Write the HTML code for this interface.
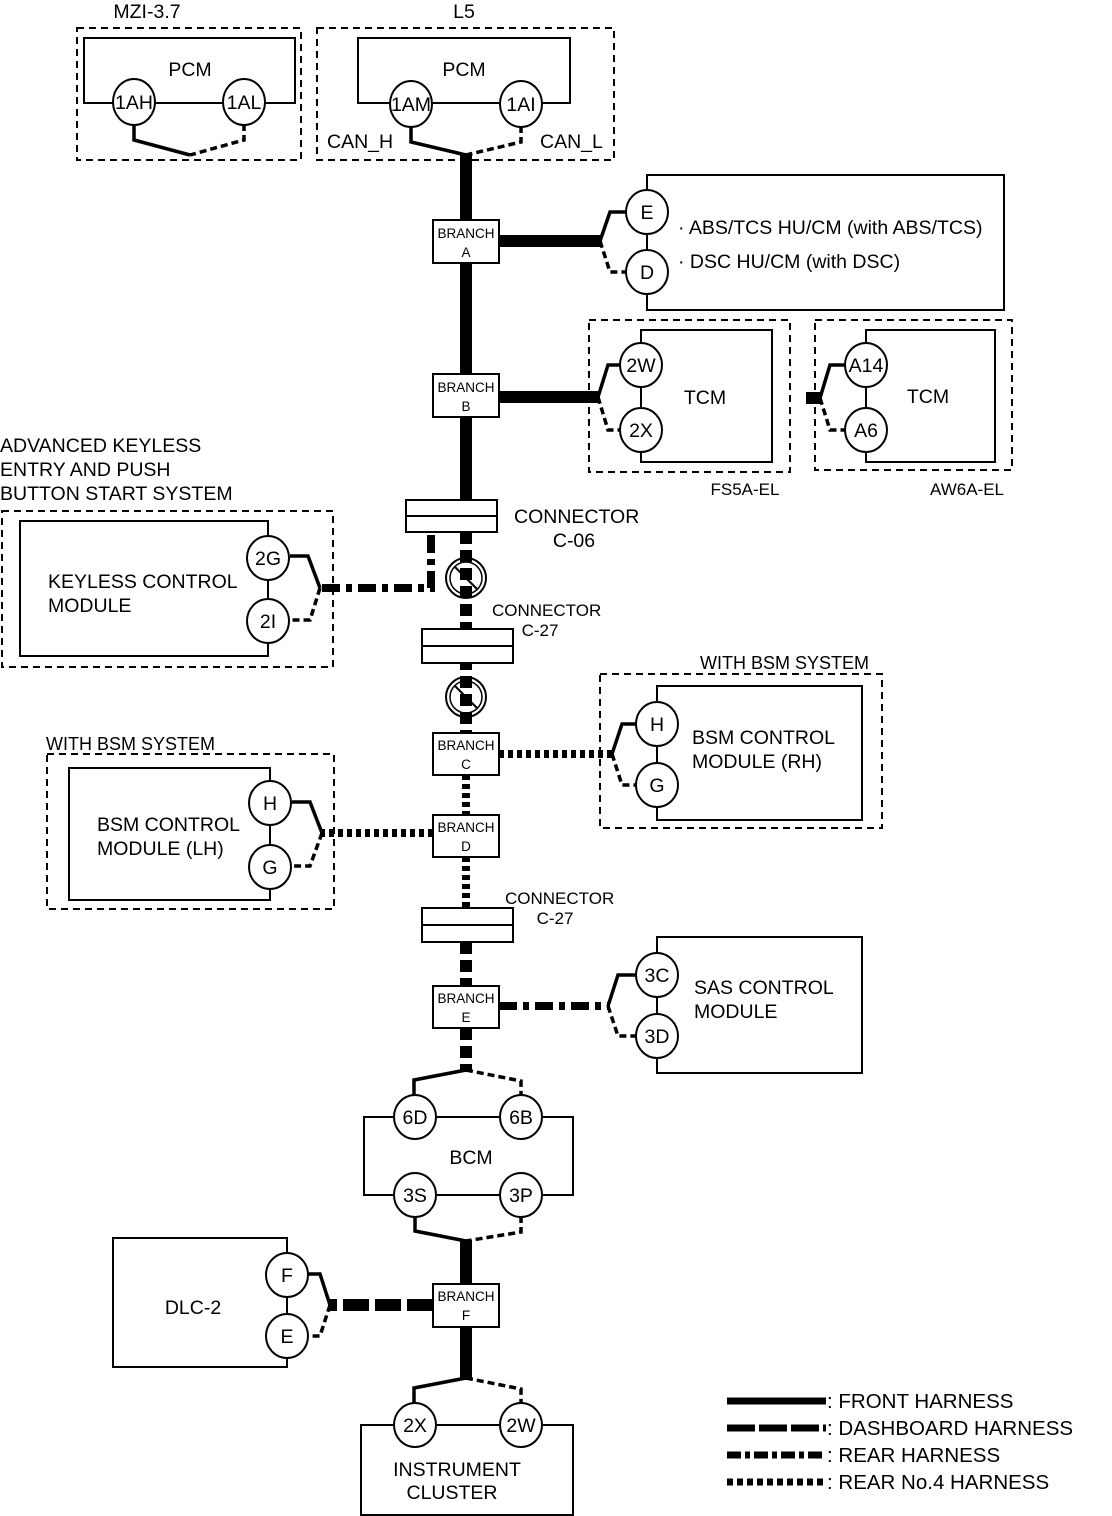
<!DOCTYPE html>
<html><head><meta charset="utf-8"><style>
html,body{margin:0;padding:0;background:#fff}
svg{display:block}
text{font-family:"Liberation Sans",Arial,sans-serif;fill:#000}
</style></head><body>
<svg width="1112" height="1516" viewBox="0 0 1112 1516" xmlns="http://www.w3.org/2000/svg">
<defs>
<style>
.th{stroke:#000;stroke-width:2;fill:none}
.wb{stroke:#000;stroke-width:2;fill:#fff}
.db{stroke:#000;stroke-width:2;fill:none;stroke-dasharray:7 5}
.cir{stroke:#000;stroke-width:2;fill:#fff}
.fs{stroke:#000;stroke-width:3.5;fill:none}
.fd{stroke:#000;stroke-width:3.5;fill:none;stroke-dasharray:7 4}
.tr{stroke:#000;stroke-width:12;fill:none}
.dash{stroke:#000;stroke-width:12;fill:none;stroke-dasharray:26 6}
.dd{stroke:#000;stroke-width:12;fill:none;stroke-dasharray:12 6}
.rear{stroke:#000;stroke-width:8;fill:none;stroke-dasharray:18 6 6 6}
.dot{stroke:#000;stroke-width:8;fill:none;stroke-dasharray:5 4}
.c{font-size:19.5px;text-anchor:middle}
.t{font-size:19.5px}
.b{font-size:13.5px;text-anchor:middle}
</style>
</defs>

<!-- MZI-3.7 -->
<text x="147" y="18" class="c">MZI-3.7</text>
<rect x="77" y="28" width="224" height="132" class="db"/>
<rect x="84" y="38" width="211" height="65" class="th"/>
<text x="190" y="76" class="c">PCM</text>
<path d="M134 124 V140 L190 155" class="fs"/>
<path d="M244 124 V140 L190 155" class="fd"/>
<ellipse cx="134" cy="102" rx="21" ry="23" class="cir"/><text x="134" y="109" class="c">1AH</text>
<ellipse cx="244" cy="102" rx="21" ry="23" class="cir"/><text x="244" y="109" class="c">1AL</text>

<!-- L5 -->
<text x="464" y="18" class="c">L5</text>
<rect x="317" y="28" width="297" height="132" class="db"/>
<rect x="358" y="38" width="212" height="65" class="th"/>
<text x="464" y="76" class="c">PCM</text>
<text x="327" y="148" class="t">CAN_H</text>
<text x="540" y="148" class="t">CAN_L</text>
<path d="M411 126 V142 L466 155" class="fs"/>
<path d="M521 126 V142 L466 155" class="fd"/>
<ellipse cx="411" cy="104" rx="21" ry="23" class="cir"/><text x="411" y="111" class="c">1AM</text>
<ellipse cx="521" cy="104" rx="21" ry="23" class="cir"/><text x="521" y="111" class="c">1AI</text>

<!-- trunk solid top -->
<path d="M466 155 V500" class="tr"/>
<!-- Branch A -->
<path d="M499 241 H600" class="tr"/>
<path d="M600 241 L610 212 H626" class="fs"/>
<path d="M600 241 L610 272 H626" class="fd"/>
<path d="M647 212 V175 H1004 V310 H647 V272" class="th"/>
<path d="M647 212 V272" class="th"/>
<ellipse cx="647" cy="212" rx="21" ry="22" class="cir"/><text x="647" y="219" class="c">E</text>
<ellipse cx="647" cy="272" rx="21" ry="22" class="cir"/><text x="647" y="279" class="c">D</text>
<text x="678" y="234" class="t">· ABS/TCS HU/CM (with ABS/TCS)</text>
<text x="678" y="268" class="t">· DSC HU/CM (with DSC)</text>
<rect x="433" y="220" width="66" height="43" class="wb"/>
<text x="466" y="238" class="b">BRANCH</text><text x="466" y="257" class="b">A</text>

<!-- Branch B / TCM FS5A -->
<path d="M499 397 H598" class="tr"/>
<path d="M598 397 L608 365 H620" class="fs"/>
<path d="M598 397 L608 430 H620" class="fd"/>
<rect x="589" y="320" width="201" height="152" class="db"/>
<path d="M641 365 V330 H772 V462 H641 V430" class="th"/>
<path d="M641 365 V430" class="th"/>
<ellipse cx="641" cy="365" rx="21" ry="22" class="cir"/><text x="641" y="372" class="c">2W</text>
<ellipse cx="641" cy="430" rx="21" ry="22" class="cir"/><text x="641" y="437" class="c">2X</text>
<text x="705" y="404" class="c">TCM</text>
<text x="745" y="495" class="c" style="font-size:17px">FS5A-EL</text>
<rect x="433" y="374" width="66" height="43" class="wb"/>
<text x="466" y="392" class="b">BRANCH</text><text x="466" y="411" class="b">B</text>

<!-- AW6A -->
<rect x="815" y="320" width="197" height="150" class="db"/>
<path d="M806 398 H822" class="tr"/>
<path d="M820 398 L830 365 H845" class="fs"/>
<path d="M820 398 L830 430 H845" class="fd"/>
<path d="M866 365 V330 H995 V462 H866 V430" class="th"/>
<path d="M866 365 V430" class="th"/>
<ellipse cx="866" cy="365" rx="21" ry="22" class="cir"/><text x="866" y="372" class="c">A14</text>
<ellipse cx="866" cy="430" rx="21" ry="22" class="cir"/><text x="866" y="437" class="c">A6</text>
<text x="928" y="403" class="c">TCM</text>
<text x="967" y="495" class="c" style="font-size:17px">AW6A-EL</text>

<!-- Keyless -->
<text x="0" y="452" class="t">ADVANCED KEYLESS</text>
<text x="0" y="476" class="t">ENTRY AND PUSH</text>
<text x="0" y="500" class="t">BUTTON START SYSTEM</text>
<rect x="2" y="511" width="331" height="156" class="db"/>
<path d="M268 558 V521 H20 V656 H268 V621" class="th"/>
<path d="M268 558 V621" class="th"/>
<text x="48" y="588" class="t">KEYLESS CONTROL</text>
<text x="48" y="612" class="t">MODULE</text>
<path d="M320 588 L308 556 H290" class="fs"/>
<path d="M320 588 L310 620 H290" class="fd"/>
<path d="M322 588 H431 V534" class="rear"/>
<ellipse cx="268" cy="558" rx="21" ry="22" class="cir"/><text x="268" y="565" class="c">2G</text>
<ellipse cx="268" cy="621" rx="21" ry="22" class="cir"/><text x="268" y="628" class="c">2I</text>

<!-- trunk C-06 to Branch C -->
<path d="M466 532 V734" class="dd"/>
<rect x="406" y="500" width="91" height="32" class="wb"/><path d="M406 516 H497" class="th"/>
<text x="514" y="523" class="t">CONNECTOR</text>
<text x="574" y="547" class="c">C-06</text>
<circle cx="466" cy="578" r="20" fill="none" stroke="#000" stroke-width="2"/>
<circle cx="466" cy="578" r="16" fill="none" stroke="#000" stroke-width="1.5"/>
<path d="M455 567 L477 589" stroke="#000" stroke-width="2"/>
<text x="492" y="616" class="t" style="font-size:17px">CONNECTOR</text>
<text x="540" y="636" class="c" style="font-size:17px">C-27</text>
<rect x="422" y="629" width="91" height="34" class="wb"/><path d="M422 646 H513" class="th"/>
<circle cx="466" cy="697" r="20" fill="none" stroke="#000" stroke-width="2"/>
<circle cx="466" cy="697" r="16" fill="none" stroke="#000" stroke-width="1.5"/>
<path d="M455 686 L477 708" stroke="#000" stroke-width="2"/>

<!-- Branch C / BSM RH -->
<path d="M466 775 V815" class="dot"/>
<path d="M499 754 H612" class="dot"/>
<path d="M612 754 L622 724 H636" class="fs"/>
<path d="M612 754 L622 785 H636" class="fd"/>
<text x="700" y="669" class="t" style="font-size:18px">WITH BSM SYSTEM</text>
<rect x="600" y="674" width="282" height="154" class="db"/>
<path d="M657 724 V686 H862 V820 H657 V785" class="th"/>
<path d="M657 724 V785" class="th"/>
<ellipse cx="657" cy="724" rx="21" ry="22" class="cir"/><text x="657" y="731" class="c">H</text>
<ellipse cx="657" cy="785" rx="21" ry="22" class="cir"/><text x="657" y="792" class="c">G</text>
<text x="692" y="744" class="t">BSM CONTROL</text>
<text x="692" y="768" class="t">MODULE (RH)</text>
<rect x="433" y="733" width="66" height="42" class="wb"/>
<text x="466" y="750" class="b">BRANCH</text><text x="466" y="769" class="b">C</text>

<!-- Branch D / BSM LH -->
<path d="M466 857 V908" class="dot"/>
<path d="M433 833 H322" class="dot"/>
<path d="M322 833 L310 802 H292" class="fs"/>
<path d="M322 833 L310 866 H292" class="fd"/>
<text x="46" y="750" class="t" style="font-size:18px">WITH BSM SYSTEM</text>
<rect x="47" y="754" width="287" height="155" class="db"/>
<path d="M270 803 V768 H69 V900 H270 V867" class="th"/>
<path d="M270 803 V867" class="th"/>
<ellipse cx="270" cy="803" rx="21" ry="22" class="cir"/><text x="270" y="810" class="c">H</text>
<ellipse cx="270" cy="867" rx="21" ry="22" class="cir"/><text x="270" y="874" class="c">G</text>
<text x="97" y="831" class="t">BSM CONTROL</text>
<text x="97" y="855" class="t">MODULE (LH)</text>
<rect x="433" y="815" width="66" height="42" class="wb"/>
<text x="466" y="832" class="b">BRANCH</text><text x="466" y="851" class="b">D</text>

<!-- C-27 second -->
<path d="M466 942 V987" class="dd"/>
<rect x="422" y="908" width="91" height="34" class="wb"/><path d="M422 925 H513" class="th"/>
<text x="505" y="904" class="t" style="font-size:17px">CONNECTOR</text>
<text x="555" y="924" class="c" style="font-size:17px">C-27</text>

<!-- Branch E / SAS -->
<path d="M499 1006 H608" class="rear"/>
<path d="M608 1006 L618 975 H636" class="fs"/>
<path d="M608 1006 L618 1036 H636" class="fd"/>
<path d="M657 975 V937 H862 V1073 H657 V1036" class="th"/>
<path d="M657 975 V1036" class="th"/>
<ellipse cx="657" cy="975" rx="21" ry="22" class="cir"/><text x="657" y="982" class="c">3C</text>
<ellipse cx="657" cy="1036" rx="21" ry="22" class="cir"/><text x="657" y="1043" class="c">3D</text>
<text x="694" y="994" class="t">SAS CONTROL</text>
<text x="694" y="1018" class="t">MODULE</text>
<path d="M466 1028 V1070" class="dd"/>
<rect x="433" y="986" width="66" height="42" class="wb"/>
<text x="466" y="1003" class="b">BRANCH</text><text x="466" y="1022" class="b">E</text>

<!-- BCM -->
<path d="M466 1070 L414 1080 V1096" class="fs"/>
<path d="M466 1070 L521 1081 V1096" class="fd"/>
<rect x="364" y="1117" width="209" height="78" class="th"/>
<text x="471" y="1164" class="c">BCM</text>
<ellipse cx="415" cy="1117" rx="21" ry="22" class="cir"/><text x="415" y="1124" class="c">6D</text>
<ellipse cx="521" cy="1117" rx="21" ry="22" class="cir"/><text x="521" y="1124" class="c">6B</text>
<path d="M415 1216 V1231 L466 1241" class="fs"/>
<path d="M521 1216 V1232 L466 1241" class="fd"/>
<ellipse cx="415" cy="1195" rx="21" ry="22" class="cir"/><text x="415" y="1202" class="c">3S</text>
<ellipse cx="521" cy="1195" rx="21" ry="22" class="cir"/><text x="521" y="1202" class="c">3P</text>

<!-- Branch F / DLC -->
<path d="M466 1240 V1380" class="tr"/>
<path d="M433 1305 H330" class="dash"/>
<path d="M330 1305 L320 1274 H306" class="fs"/>
<path d="M330 1305 L320 1336 H306" class="fd"/>
<path d="M287 1275 V1238 H113 V1367 H287 V1336" class="th"/>
<path d="M287 1275 V1336" class="th"/>
<ellipse cx="287" cy="1275" rx="21" ry="22" class="cir"/><text x="287" y="1282" class="c">F</text>
<ellipse cx="287" cy="1336" rx="21" ry="22" class="cir"/><text x="287" y="1343" class="c">E</text>
<text x="193" y="1314" class="c">DLC-2</text>
<rect x="433" y="1284" width="66" height="43" class="wb"/>
<text x="466" y="1301" class="b">BRANCH</text><text x="466" y="1320" class="b">F</text>

<!-- Instrument cluster -->
<path d="M466 1378 L414 1388 V1404" class="fs"/>
<path d="M466 1378 L521 1389 V1404" class="fd"/>
<rect x="361" y="1425" width="212" height="90" class="th"/>
<ellipse cx="415" cy="1425" rx="21" ry="22" class="cir"/><text x="415" y="1432" class="c">2X</text>
<ellipse cx="521" cy="1425" rx="21" ry="22" class="cir"/><text x="521" y="1432" class="c">2W</text>
<text x="457" y="1476" class="c">INSTRUMENT</text>
<text x="452" y="1499" class="c">CLUSTER</text>

<!-- Legend -->
<path d="M727 1401 H826" stroke="#000" stroke-width="7"/>
<path d="M727 1428 H826" stroke="#000" stroke-width="7" stroke-dasharray="28 4"/>
<path d="M727 1455 H826" stroke="#000" stroke-width="7" stroke-dasharray="14 4 5 4"/>
<path d="M727 1482 H826" stroke="#000" stroke-width="7" stroke-dasharray="6 4"/>
<text x="827" y="1408" class="t" style="font-size:20.5px">: FRONT HARNESS</text>
<text x="827" y="1435" class="t" style="font-size:20.5px">: DASHBOARD HARNESS</text>
<text x="827" y="1462" class="t" style="font-size:20.5px">: REAR HARNESS</text>
<text x="827" y="1489" class="t" style="font-size:20.5px">: REAR No.4 HARNESS</text>
</svg>
</body></html>
